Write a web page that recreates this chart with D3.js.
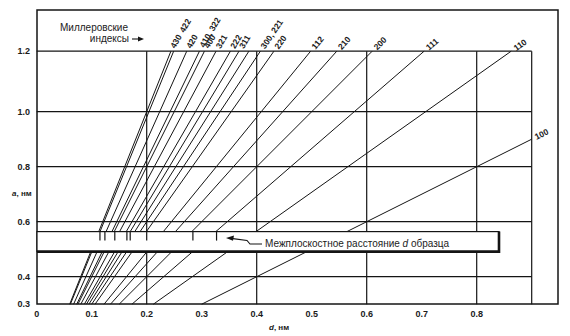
<!DOCTYPE html>
<html>
<head>
<meta charset="utf-8">
<script src="https://cdn.jsdelivr.net/npm/d3@7"></script>
<style>
  body { margin: 0; background: #fff; }
  svg { display: block; }
  text { font-family: "Liberation Sans", Arial, sans-serif; fill: #1b1b1b; }
</style>
</head>
<body>
<svg id="chart" width="570" height="336"></svg>
<script>
// Miller indices of the reflections and h²+k²+l² of each line (a = d·√N);
// an empty label marks a line drawn without a caption
const hklLabels = ["100", "110", "111", "200", "210", "112", "220", "300, 221", "", "311", "222", "321", "400", "410, 322", "420", "422", "430"];
const hklSums   = [1, 2, 3, 4, 5, 6, 8, 9, 10, 11, 12, 14, 16, 17, 20, 24, 25];
// interplanar spacings d of the sample, nm
const sampleD = [0.327, 0.284, 0.200, 0.170, 0.164, 0.142, 0.124, 0.115];
// lattice parameter a at which the sample strip is laid, nm
const stripA = 0.564;
// axis ticks and grid
const xTicks = [0, 0.1, 0.2, 0.3, 0.4, 0.5, 0.6, 0.7, 0.8];
const yTicks = [0.3, 0.4, 0.6, 0.8, 1.0, 1.22];
const xGrid = [0.2, 0.4, 0.6, 0.8, 0.9];
const yGrid = [0.4, 0.6, 0.8, 1.0, 1.22];
const dMax = 0.9, aMin = 0.3, aMax = 1.22;

const svg = d3.select("#chart");
const ink = "#141414";

const x = d3.scaleLinear().domain([0, dMax]).range([36.7, 531.7]);
const y = d3.scaleLinear().domain([aMin, aMax]).range([304.2, 51.2]);

// outer frame
const frame = { left: 37, top: 10, right: 558, bottom: 304 };
svg.append("rect")
  .attr("x", frame.left).attr("y", frame.top)
  .attr("width", frame.right - frame.left).attr("height", frame.bottom - frame.top)
  .attr("fill", "none").attr("stroke", ink).attr("stroke-width", 1.5);

// grid
const grid = svg.append("g").attr("stroke", ink).attr("stroke-width", 1.2);
grid.selectAll("line.h").data(yGrid).join("line")
  .attr("x1", x(0)).attr("x2", x(dMax))
  .attr("y1", d => y(d)).attr("y2", d => y(d));
grid.selectAll("line.v").data(xGrid).join("line")
  .attr("x1", d => x(d)).attr("x2", d => x(d))
  .attr("y1", y(aMax)).attr("y2", y(aMin));

// diagonal lines a = d·√N
const lines = hklSums.map((n, i) => {
  const k = Math.sqrt(n);
  const d0 = aMin / k;
  const d1 = Math.min(aMax / k, dMax);
  return { label: hklLabels[i], k, d0, d1, a0: aMin, a1: d1 * k };
});
svg.append("g").attr("stroke", ink).attr("stroke-width", 1)
  .selectAll("line").data(lines).join("line")
  .attr("x1", d => x(d.d0)).attr("y1", d => y(d.a0))
  .attr("x2", d => x(d.d1)).attr("y2", d => y(d.a1));

// labels at the ends of the lines
const labelShift = { "422": 17, "410, 322": 1 };
const pxSlope = (y(0.3) - y(0.4)) / (x(0.1) - x(0));
svg.append("g").selectAll("text").data(lines.filter(d => d.label)).join("text")
  .attr("font-size", 8.5).attr("font-weight", "bold")
  .attr("transform", d => {
    const ang = Math.atan(d.k * pxSlope);
    const off = 4 + (labelShift[d.label] || 0);
    const px = x(d.d1) + off * Math.cos(ang);
    const py = y(d.a1) - off * Math.sin(ang);
    const rot = Math.min(ang * 180 / Math.PI, 60);
    return `translate(${px},${py}) rotate(${-rot})`;
  })
  .attr("dy", "0.35em")
  .text(d => d.label);

// sample strip
const stripTop = y(stripA);
const stripH = 20, stripRight = 499;
svg.append("rect")
  .attr("x", frame.left).attr("y", stripTop)
  .attr("width", stripRight - frame.left).attr("height", stripH)
  .attr("fill", "#fff").attr("stroke", ink).attr("stroke-width", 1.2);
svg.append("path")
  .attr("d", `M${frame.left},${stripTop + stripH} H${stripRight} V${stripTop}`)
  .attr("fill", "none").attr("stroke", ink).attr("stroke-width", 2.6);

svg.append("g").attr("stroke", ink).attr("stroke-width", 1.2)
  .selectAll("line").data(sampleD).join("line")
  .attr("x1", d => x(d)).attr("x2", d => x(d))
  .attr("y1", stripTop).attr("y2", stripTop + 9);

svg.append("path")
  .attr("d", `M262,244 H250 L247,240.5 L233,238.6`)
  .attr("fill", "none").attr("stroke", ink).attr("stroke-width", 1.1);
svg.append("path")
  .attr("d", "M226,238 L234,235.6 L233,240.8 Z")
  .attr("fill", ink);
const cap = svg.append("text").attr("x", 265).attr("y", 247).attr("font-size", 10);
cap.append("tspan").text("Межплоскостное расстояние ");
cap.append("tspan").attr("font-style", "italic").text("d");
cap.append("tspan").text(" образца");

// caption of the index labels
svg.append("text").attr("x", 128).attr("y", 31).attr("font-size", 10)
  .attr("text-anchor", "end").text("Миллеровские");
svg.append("text").attr("x", 129).attr("y", 42).attr("font-size", 10)
  .attr("text-anchor", "end").text("индексы");
svg.append("path").attr("d", "M132,39 H140").attr("stroke", ink).attr("stroke-width", 1.1);
svg.append("path").attr("d", "M144,39 L138,36.6 L138,41.4 Z").attr("fill", ink);

// axes
const fmt = d3.format(".1f");
svg.append("g").selectAll("text").data(xTicks).join("text")
  .attr("x", d => x(d)).attr("y", 317)
  .attr("text-anchor", "middle").attr("font-size", 9).attr("font-weight", "bold")
  .text(d => d === 0 ? "0" : fmt(d));
svg.append("g").selectAll("text").data(yTicks).join("text")
  .attr("x", 30).attr("y", d => y(d)).attr("dy", "0.35em")
  .attr("text-anchor", "end").attr("font-size", 9).attr("font-weight", "bold")
  .text(d => fmt(d));

const yl = svg.append("text").attr("x", 12).attr("y", 196).attr("font-size", 8).attr("font-weight", "bold");
yl.append("tspan").attr("font-style", "italic").text("a");
yl.append("tspan").text(", нм");
const xl = svg.append("text").attr("x", 269).attr("y", 330).attr("font-size", 8).attr("font-weight", "bold");
xl.append("tspan").attr("font-style", "italic").text("d");
xl.append("tspan").text(", нм");
</script>
</body>
</html>
